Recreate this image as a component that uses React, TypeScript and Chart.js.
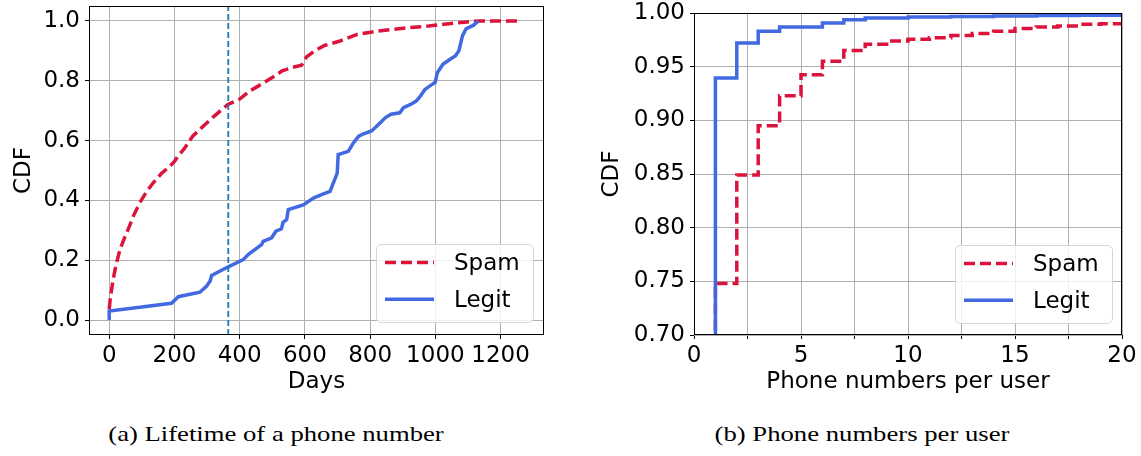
import React, { useEffect, useRef } from "react";
import { Chart, registerables } from "chart.js";
Chart.register(...registerables);

// ---------- (a) Lifetime of a phone number ----------
const lifetimeTicks = [0, 200, 400, 600, 800, 1000, 1200];
const lifetimeCdfTicks = [0, 0.2, 0.4, 0.6, 0.8, 1.0];
const spamDays = [0, 3, 7, 12, 20, 33, 45, 58, 75, 94, 115, 135, 160, 186, 200, 212, 229, 256, 289, 322, 364, 399, 431, 475, 508, 530, 563, 590, 605, 630, 660, 705, 760, 815, 869, 924, 979, 1034, 1088, 1132, 1265];
const spamLifetimeCdf = [0.036, 0.07, 0.1, 0.136, 0.18, 0.236, 0.27, 0.303, 0.35, 0.393, 0.43, 0.459, 0.49, 0.514, 0.53, 0.55, 0.571, 0.615, 0.649, 0.682, 0.721, 0.738, 0.766, 0.794, 0.816, 0.833, 0.845, 0.852, 0.88, 0.9, 0.918, 0.932, 0.955, 0.965, 0.972, 0.978, 0.983, 0.99, 0.996, 1.0, 1.0];
const legitDays = [0, 0, 191, 212, 278, 298, 309, 314, 365, 411, 426, 467, 472, 498, 511, 528, 533, 544, 549, 595, 626, 651, 677, 687, 699, 702, 733, 749, 765, 776, 804, 815, 831, 847, 864, 891, 902, 924, 941, 951, 968, 990, 999, 1006, 1023, 1045, 1061, 1072, 1083, 1094, 1116, 1132];
const legitLifetimeCdf = [0, 0.03, 0.056, 0.078, 0.093, 0.113, 0.13, 0.149, 0.178, 0.202, 0.219, 0.252, 0.263, 0.275, 0.297, 0.305, 0.327, 0.336, 0.369, 0.385, 0.408, 0.419, 0.43, 0.458, 0.491, 0.553, 0.564, 0.593, 0.615, 0.621, 0.632, 0.643, 0.66, 0.677, 0.688, 0.693, 0.71, 0.721, 0.732, 0.744, 0.771, 0.788, 0.794, 0.827, 0.855, 0.872, 0.883, 0.9, 0.95, 0.974, 0.985, 1.0];
const yearMarkDays = 365;
const lifetimeXRange = [-62, 1333];
const lifetimeYRange = [-0.05, 1.05];

// ---------- (b) Phone numbers per user ----------
const phoneTicks = [0, 2.5, 5, 7.5, 10, 12.5, 15, 17.5, 20];
const phoneCdfTicks = [0.7, 0.75, 0.8, 0.85, 0.9, 0.95, 1.0];
const spamPhoneCounts = [1, 1, 2, 3, 4, 5, 6, 7, 8, 9, 10, 11, 12, 13, 14, 15, 16, 17, 18, 19, 20];
const spamPhonesCdf = [0.6, 0.748, 0.849, 0.895, 0.923, 0.9425, 0.955, 0.965, 0.971, 0.974, 0.9755, 0.977, 0.979, 0.981, 0.983, 0.9855, 0.987, 0.988, 0.9895, 0.99, 0.9907];
const legitPhoneCounts = [1, 1, 2, 3, 4, 6, 7, 8, 10, 12, 14, 16, 18, 20];
const legitPhonesCdf = [0.6, 0.9394, 0.972, 0.983, 0.987, 0.9907, 0.9938, 0.9953, 0.9962, 0.9968, 0.9972, 0.9976, 0.998, 0.9983];

const seriesNames = ["Spam", "Legit"];
const captions = ["(a) Lifetime of a phone number", "(b) Phone numbers per user"];
const SPAM_COLOR = "#DC143C";
const LEGIT_COLOR = "#4169E1";
const VLINE_COLOR = "#1f77b4";

const FONT = { family: "'DejaVu Sans'", size: 23 };
const GRID = { color: "#b0b0b0", lineWidth: 1, tickColor: "#000", tickLength: 4, tickWidth: 1 };

const zip = (xs: number[], ys: number[]) => xs.map((x, i) => ({ x, y: ys[i] }));

const zeroPad = (s: any) => {
  s.paddingLeft = 0;
  s.paddingRight = 0;
  s.paddingTop = 0;
  s.paddingBottom = 0;
};

const framePlugin = {
  id: "frame",
  afterDatasetsDraw(chart: any) {
    const { ctx, chartArea: a } = chart;
    ctx.save();
    ctx.strokeStyle = "#000";
    ctx.lineWidth = 1;
    ctx.strokeRect(Math.round(a.left) + 0.5, Math.round(a.top) + 0.5, Math.round(a.right - a.left) - 1, Math.round(a.bottom - a.top) - 1);
    ctx.restore();
  },
};

function makeLegend(entries: { label: string; color: string; dash: number[] }[], insetRight: number, insetBottom: number) {
  return {
    id: "mplLegend",
    afterDraw(chart: any) {
      const { ctx, chartArea: a } = chart;
      const w = 157;
      const h = 78;
      const x = Math.round(a.right - insetRight - w);
      const y = Math.round(a.bottom - insetBottom - h);
      ctx.save();
      ctx.beginPath();
      (ctx as any).roundRect(x + 0.5, y + 0.5, w, h, 5);
      ctx.fillStyle = "rgba(255,255,255,0.8)";
      ctx.fill();
      ctx.strokeStyle = "#d6d6d6";
      ctx.lineWidth = 1;
      ctx.stroke();
      entries.forEach((e, i) => {
        const cy = y + 18.5 + i * 36.7;
        ctx.beginPath();
        ctx.setLineDash(e.dash);
        ctx.strokeStyle = e.color;
        ctx.lineWidth = 3.5;
        ctx.moveTo(x + 9, cy);
        ctx.lineTo(x + 58, cy);
        ctx.stroke();
        ctx.setLineDash([]);
        ctx.fillStyle = "#000";
        ctx.font = `${FONT.size}px ${FONT.family}`;
        ctx.textBaseline = "middle";
        ctx.textAlign = "left";
        ctx.fillText(e.label, x + 78, cy + 2);
      });
      ctx.restore();
    },
  };
}

const legendEntries = [
  { label: seriesNames[0], color: SPAM_COLOR, dash: [11, 5] },
  { label: seriesNames[1], color: LEGIT_COLOR, dash: [] as number[] },
];

function axis(opts: {
  range: number[];
  ticks: number[];
  size: number;
  horizontal: boolean;
  title: string;
  titlePad: any;
  fmt: (v: number) => string;
}) {
  return {
    type: "linear",
    min: opts.range[0],
    max: opts.range[1],
    afterBuildTicks: (s: any) => {
      s.ticks = opts.ticks.map((v) => ({ value: v }));
    },
    afterFit: (s: any) => {
      if (opts.horizontal) s.height = opts.size;
      else s.width = opts.size;
      zeroPad(s);
    },
    grid: GRID,
    border: { display: false },
    ticks: {
      font: FONT,
      color: "#000",
      padding: opts.horizontal ? 3 : 5,
      autoSkip: false,
      maxRotation: 0,
      minRotation: 0,
      callback: (v: number) => opts.fmt(v),
    },
    title: { display: true, text: opts.title, font: FONT, color: "#000", padding: opts.titlePad },
  };
}

export default function App() {
  const refA = useRef<HTMLCanvasElement>(null);
  const refB = useRef<HTMLCanvasElement>(null);

  useEffect(() => {
    const common = {
      responsive: false,
      animation: false,
      devicePixelRatio: 1,
      events: [],
      plugins: { legend: { display: false }, tooltip: { enabled: false } },
      elements: { point: { radius: 0 }, line: { tension: 0 } },
    };

    const chartA = new Chart(refA.current!, {
      type: "line",
      data: {
        datasets: [
          {
            label: "365 days",
            data: [
              { x: yearMarkDays, y: lifetimeYRange[0] },
              { x: yearMarkDays, y: lifetimeYRange[1] },
            ],
            borderColor: VLINE_COLOR,
            borderWidth: 1.8,
            borderDash: [6, 3],
            pointRadius: 0,
          },
          {
            label: seriesNames[1],
            data: zip(legitDays, legitLifetimeCdf),
            borderColor: LEGIT_COLOR,
            borderWidth: 3.5,
            pointRadius: 0,
          },
          {
            label: seriesNames[0],
            data: zip(spamDays, spamLifetimeCdf),
            borderColor: SPAM_COLOR,
            borderWidth: 3.5,
            borderDash: [11, 5],
            pointRadius: 0,
          },
        ],
      },
      options: {
        ...common,
        layout: { padding: { left: 0, top: 6, right: 26, bottom: 0 } },
        scales: {
          x: axis({ range: lifetimeXRange, ticks: lifetimeTicks, size: 65, horizontal: true, title: "Days", titlePad: { top: 0, bottom: 4 }, fmt: (v) => String(v) }),
          y: axis({ range: lifetimeYRange, ticks: lifetimeCdfTicks, size: 89, horizontal: false, title: "CDF", titlePad: { top: 10, bottom: 0 }, fmt: (v) => v.toFixed(1) }),
        },
      } as any,
      plugins: [framePlugin, makeLegend(legendEntries, 11, 13)],
    } as any);

    const chartB = new Chart(refB.current!, {
      type: "line",
      data: {
        datasets: [
          {
            label: seriesNames[1],
            data: zip(legitPhoneCounts, legitPhonesCdf),
            borderColor: LEGIT_COLOR,
            borderWidth: 3.5,
            stepped: "before",
            pointRadius: 0,
          },
          {
            label: seriesNames[0],
            data: zip(spamPhoneCounts, spamPhonesCdf),
            borderColor: SPAM_COLOR,
            borderWidth: 3.5,
            borderDash: [11, 5],
            stepped: "before",
            pointRadius: 0,
          },
        ],
      },
      options: {
        ...common,
        layout: { padding: { left: 0, top: 13, right: 19, bottom: 0 } },
        scales: {
          x: axis({ range: [0, 20], ticks: phoneTicks, size: 65, horizontal: true, title: "Phone numbers per user", titlePad: { top: 0, bottom: 4 }, fmt: (v) => (v % 5 === 0 ? String(v) : "") }),
          y: axis({ range: [0.7, 1.0], ticks: phoneCdfTicks, size: 114, horizontal: false, title: "CDF", titlePad: { top: 18, bottom: 0 }, fmt: (v) => v.toFixed(2) }),
        },
      } as any,
      plugins: [framePlugin, makeLegend(legendEntries, 10, 12)],
    } as any);

    return () => {
      chartA.destroy();
      chartB.destroy();
    };
  }, []);

  const caption: React.CSSProperties = {
    position: "absolute",
    top: 422,
    width: 600,
    textAlign: "center",
    fontFamily: "'Liberation Serif', serif",
    fontSize: 21,
    lineHeight: "24px",
    color: "#000",
    whiteSpace: "nowrap",
    transform: "scaleX(1.27)",
    transformOrigin: "50% 50%",
  };

  return (
    <div style={{ position: "absolute", left: 0, top: 0, width: 1141, height: 456, background: "#fff", overflow: "hidden" }}>
      <canvas ref={refA} width={570} height={400} style={{ position: "absolute", left: 0, top: 0, display: "block" }} />
      <canvas ref={refB} width={561} height={400} style={{ position: "absolute", left: 580, top: 0, display: "block" }} />
      <div style={{ ...caption, left: 276 - 300 }}>{captions[0]}</div>
      <div style={{ ...caption, left: 862 - 300 }}>{captions[1]}</div>
    </div>
  );
}
